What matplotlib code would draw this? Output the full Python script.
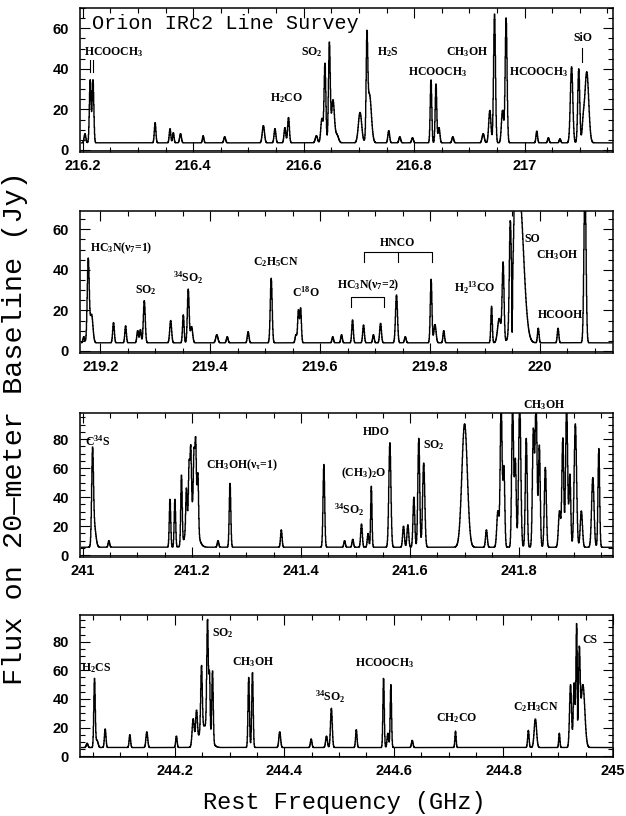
"""Orion IRc2 line survey: four spectral windows stacked vertically."""
import numpy as np
import matplotlib as mpl
import matplotlib.pyplot as plt
from matplotlib.ticker import MultipleLocator, FuncFormatter

mpl.rcParams.update({
    "font.family": "Liberation Sans",
    "font.weight": "bold",
    "mathtext.fontset": "custom",
    "mathtext.rm": "Liberation Serif:bold",
    "mathtext.it": "Liberation Serif:italic:bold",
    "mathtext.bf": "Liberation Serif:bold",
    "mathtext.default": "rm",
})

# ---- line lists: centre (GHz), peak above baseline (Jy), sigma (MHz)
P1_FREQ = [216.204, 216.2135, 216.2185, 216.331, 216.358, 216.364, 216.377, 216.418, 216.457,
           216.527, 216.548, 216.566, 216.5725, 216.623, 216.633, 216.6385, 216.6465, 216.653,
           216.660, 216.702, 216.7145, 216.719, 216.754, 216.774, 216.797, 216.8305, 216.8395,
           216.845, 216.870, 216.925, 216.937, 216.9455, 216.960, 216.9665, 217.022, 217.043,
           217.064, 217.085, 217.098, 217.106, 217.1125]
P1_AMP = [4.5, 31, 31, 10, 7, 5, 4.5, 3.5, 3, 8.5, 7, 7.5, 12.5, 3.5, 12, 39, 49, 21, 4, 15, 45, 24,
          6, 3, 2.5, 31, 29, 7.5, 3, 4.5, 16, 63.5, 16, 61.5, 5.8, 2.5, 2, 37.5, 36.5, 8, 35]
P1_SIG = [1.5, 1.5, 1.5, 1.4, 1.4, 1.3, 1.6, 1.3, 1.6, 2, 1.6, 1.6, 1.6, 2, 2, 1.6, 1.6, 2.5, 3, 3,
          1.4, 3.5, 1.6, 1.6, 1.6, 1.4, 1.4, 1.6, 1.6, 2, 2, 1.7, 2, 1.7, 1.4, 1.4, 1.4, 2.2, 1.8, 2, 3.5]

P2_FREQ = [219.170, 219.178, 219.184, 219.224, 219.246, 219.268, 219.273, 219.280, 219.328,
           219.351, 219.360, 219.366, 219.412, 219.431, 219.469, 219.511, 219.556, 219.5605,
           219.5645, 219.623, 219.639, 219.659, 219.679, 219.697, 219.710, 219.739, 219.755,
           219.802, 219.809, 219.825, 219.912, 219.926, 219.933, 219.946, 219.9495, 219.955,
           219.962, 219.997, 220.033, 220.082]
P2_AMP = [3, 41, 14, 10, 8.4, 6, 6.5, 20.8, 11, 13.8, 26.4, 8, 4, 3, 5.5, 31.8, 4, 16, 17, 3, 4,
          11.3, 8.8, 4, 9.6, 23.6, 3, 31.3, 9, 6, 18, 12, 39, 50, -26, 35, 75, 7.2, 7.2, 80]
P2_SIG = [1.5, 1.8, 2.5, 1.5, 1.4, 1.5, 1.4, 1.7, 1.7, 1.4, 1.6, 2, 2, 1.5, 1.5, 1.7, 1.5, 1.4,
          1.4, 1.4, 1.4, 1.4, 1.5, 1.4, 1.6, 1.8, 1.5, 1.5, 2, 1.4, 1.3, 3, 1.7, 1.7, 0.5, 2.5,
          8, 1.4, 1.4, 1.9]

P3_FREQ = [241.018, 241.021, 241.048, 241.160, 241.169, 241.181, 241.190, 241.195, 241.198,
           241.200, 241.204, 241.207, 241.211, 241.248, 241.270, 241.364, 241.442, 241.480,
           241.495, 241.511, 241.523, 241.529, 241.563, 241.588, 241.596, 241.607, 241.616,
           241.625, 241.700, 241.740, 241.761, 241.767, 241.772, 241.788, 241.793, 241.801,
           241.813, 241.826, 241.831, 241.837, 241.848, 241.874, 241.880, 241.887, 241.893,
           241.903, 241.914, 241.935, 241.946]
P3_AMP = [60, 15, 4.5, 33, 33, 48, 28, 35, 42, 28, 40, 55, 40, 4.5, 44, 12, 57, 4.5, 5.5, 16,
          9.5, 42, 72, 14.5, 15.5, 34.5, 75, 58, 85, 12, 25, 100, 55, 100, 60, 100, 75, 80, 100,
          70, 55, 25, 75, 100, 50, 85, 25, 48, 68]
P3_SIG = [1.6, 3, 1.4, 1.3, 1.3, 1.3, 1.2, 1.2, 1.2, 8, 1.2, 1.3, 1.3, 1.4, 1.4, 1.4, 1.5, 1.4,
          1.4, 1.5, 1.4, 1.2, 1.9, 1.6, 1.6, 1.6, 1.7, 2.0, 5.0, 1.6, 2.0, 1.7, 1.6, 1.7, 1.6,
          2.0, 1.7, 1.7, 1.8, 1.6, 1.8, 2.0, 1.7, 1.8, 1.6, 2.2, 2.0, 2.2, 1.5]

P4_FREQ = [244.040, 244.0535, 244.058, 244.073, 244.118, 244.149, 244.203, 244.2336, 244.2397,
           244.2488, 244.254, 244.2598, 244.2634, 244.2689, 244.335, 244.3418, 244.3916, 244.449,
           244.477, 244.4859, 244.5314, 244.5812, 244.589, 244.5945, 244.6335, 244.7125,
           244.8455, 244.8583, 244.902, 244.9225, 244.929, 244.9336, 244.9355, 244.9385, 244.945]
P4_AMP = [3, 48, 5, 13, 9, 11, 8, 19, 22, 45, 15, 78, 42, 50, 49, 53, 11, 6, 8, 27.5, 12.5, 49,
          10, 44, 5, 11.5, 12, 20, 10, 44, 45, 86, -20, 63, 44]
P4_SIG = [1.5, 1.3, 2.0, 1.4, 1.3, 1.6, 1.3, 1.9, 1.6, 1.4, 9, 1.4, 1.1, 1.3, 1.3, 1.3, 1.6, 1.4,
          1.6, 1.6, 1.3, 1.2, 1.4, 1.2, 1.4, 1.1, 1.3, 2.2, 1.1, 1.8, 1.5, 1.3, 0.5, 1.5, 3.5]

BASELINES = [3.5, 4.0, 5.5, 6.0]   # Jy, continuum level of each window

# ---- line identifications (label text, frequency, flux)
P1_LABELS = [("HCOOCH$_3$", 216.2565, 48.3), ("H$_2$CO", 216.568, 25.6), ("SO$_2$", 216.614, 48.3),
             ("H$_2$S", 216.752, 48.3), ("HCOOCH$_3$", 216.842, 38.5), ("CH$_3$OH", 216.895, 48.3),
             ("HCOOCH$_3$", 217.025, 38.5), ("SiO", 217.105, 55.2)]
P2_LABELS = [("HC$_3$N($\\nu_7$=1)", 219.2385, 50.8), ("SO$_2$", 219.283, 30.0),
             ("$^{34}$SO$_2$", 219.360, 36.0), ("C$_2$H$_5$CN", 219.519, 43.9),
             ("C$^{18}$O", 219.574, 29.0), ("HC$_3$N($\\nu_7$=2)", 219.688, 32.5),
             ("HNCO", 219.741, 53.4), ("H$_2$$^{13}$CO", 219.882, 31.0), ("SO", 219.987, 55.0),
             ("CH$_3$OH", 220.032, 47.3), ("HCOOH", 220.037, 17.8)]
P3_LABELS = [("C$^{34}$S", 241.027, 78.4), ("CH$_3$OH($\\nu_\\tau$=1)", 241.2925, 62.2),
             ("$^{34}$SO$_2$", 241.489, 31.1), ("(CH$_3$)$_2$O", 241.514, 56.5),
             ("HDO", 241.538, 84.6), ("SO$_2$", 241.643, 76.0), ("CH$_3$OH", 241.846, 103.7)]
P4_LABELS = [("H$_2$CS", 244.057, 61.4), ("SO$_2$", 244.288, 85.9), ("CH$_3$OH", 244.343, 66.0),
             ("$^{34}$SO$_2$", 244.484, 41.5), ("HCOOCH$_3$", 244.584, 64.9),
             ("CH$_2$CO", 244.714, 26.4), ("C$_2$H$_3$CN", 244.859, 34.5), ("CS", 244.958, 81.2)]

# marker ticks / brackets
HCOOCH3_TICKS = [216.2135, 216.2185]
SIO_TICK = 217.104
HC3N_V72_BRACKET = [219.657, 219.716]
HNCO_BRACKET = [219.679, 219.741, 219.803]

XLIMS = [(216.195, 217.160), (219.163, 220.133), (240.995, 241.972), (244.027, 245.0)]
YLIMS = [(-1, 70), (-1, 69), (-1.2, 98), (-0.6, 98.7)]
# axes boxes in pixels (top, bottom) of a 626x816 canvas
BOXES = [(8, 152), (211, 353), (413, 557), (615, 757)]

W, H = 626, 816


def spectrum(lo, hi, base, freqs, amps, sigmas):
    f = np.arange(lo, hi, 0.0005)
    y = np.full_like(f, base)
    for c, a, s in zip(freqs, amps, sigmas):
        y += a * np.exp(-0.5 * ((f - c) / (s * 1e-3)) ** 2)
    return f, y


fig = plt.figure(figsize=(W / 100, H / 100), dpi=100)
lines = [(P1_FREQ, P1_AMP, P1_SIG), (P2_FREQ, P2_AMP, P2_SIG),
         (P3_FREQ, P3_AMP, P3_SIG), (P4_FREQ, P4_AMP, P4_SIG)]
labels = [P1_LABELS, P2_LABELS, P3_LABELS, P4_LABELS]
axes = []
for i in range(4):
    top, bot = BOXES[i]
    ax = fig.add_axes([80 / W, 1 - bot / H, 533 / W, (bot - top) / H])
    axes.append(ax)
    lo, hi = XLIMS[i]
    f, y = spectrum(lo + 0.003, hi - 0.002, BASELINES[i], *lines[i])
    ax.plot(f, y, color="black", lw=1.0, drawstyle="steps-mid")
    ax.axhline(0, color="black", lw=0.6)
    ax.set_xlim(lo, hi)
    ax.set_ylim(*YLIMS[i])
    ax.xaxis.set_major_locator(MultipleLocator(0.2))
    ax.xaxis.set_minor_locator(MultipleLocator(0.05))
    ax.xaxis.set_major_formatter(FuncFormatter(lambda v, p: f"{v:g}"))
    ax.yaxis.set_major_locator(MultipleLocator(20))
    ax.yaxis.set_minor_locator(MultipleLocator(5))
    ax.tick_params(which="both", direction="in", top=True, right=True, width=0.8)
    ax.tick_params(which="major", length=7, labelsize=10.5)
    ax.tick_params(which="minor", length=3.5)
    ax.tick_params(axis="x", pad=5)
    ax.tick_params(axis="y", pad=8)
    for sp in ax.spines.values():
        sp.set_linewidth(1.1)
    for txt, x, yv in labels[i]:
        ax.text(x, yv, txt, ha="center", va="center", fontsize=8.5,
                family="Liberation Serif", fontweight="bold", clip_on=False)

ax1, ax2, ax3, ax4 = axes
ax1.text(216.217, 62.6, "Orion IRc2 Line Survey", family="Liberation Mono",
         fontweight="normal", fontsize=14.5, va="center", ha="left")
for fx in HCOOCH3_TICKS:
    ax1.plot([fx, fx], [38.5, 44.5], color="black", lw=0.8)
ax1.plot([SIO_TICK, SIO_TICK], [43.4, 50.3], color="black", lw=0.8)

b = HC3N_V72_BRACKET
ax2.plot([b[0], b[0], b[1], b[1]], [21.8, 26.8, 26.8, 21.8], color="black", lw=0.8)
b = HNCO_BRACKET
ax2.plot([b[0], b[0], b[2], b[2]], [44, 49, 49, 44], color="black", lw=0.8)
ax2.plot([b[1], b[1]], [44, 49], color="black", lw=0.8)

fig.text(344 / W, 1 - 802 / H, "Rest Frequency (GHz)", family="Liberation Mono",
         fontweight="normal", fontsize=17, ha="center", va="center")
fig.text(15 / W, 1 - 428 / H, "Flux on 20\u2014meter Baseline (Jy)", family="Liberation Mono",
         fontweight="normal", fontsize=20.5, ha="center", va="center", rotation=90)

fig.savefig("out.png", dpi=100)
